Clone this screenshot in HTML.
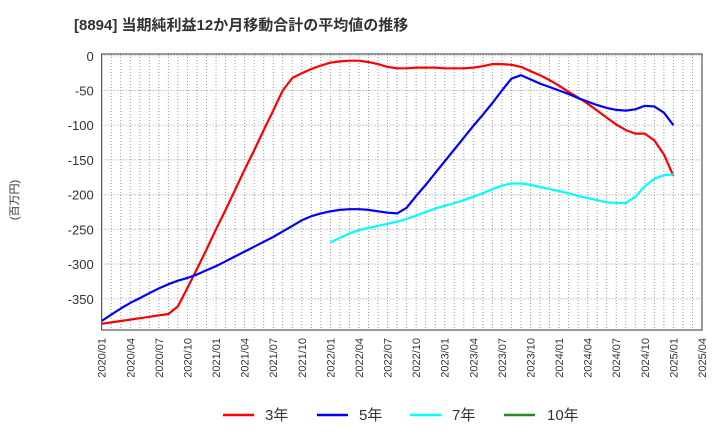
<!DOCTYPE html>
<html><head><meta charset="utf-8"><style>
body{margin:0;background:#fff;}
svg{display:block;font-family:"Liberation Sans","Noto Sans CJK JP",sans-serif;}
</style></head><body>
<svg id="c" width="720" height="440" viewBox="0 0 720 440">
<text x="74" y="30" font-size="15" font-weight="bold" fill="#333">[8894]  当期純利益12か月移動合計の平均値の推移</text>
<text transform="translate(18,200) rotate(-90)" font-size="11" fill="#333" text-anchor="middle">(百万円)</text>
<g id="grid"></g><g id="axes"></g><g id="series"></g>
<g>
<g><line x1="223" y1="415" x2="254" y2="415" stroke="#f00" stroke-width="2.5"/><text x="265" y="420" font-size="15" fill="#333">3年</text></g>
<g><line x1="317" y1="415" x2="348" y2="415" stroke="#00f" stroke-width="2.5"/><text x="359" y="420" font-size="15" fill="#333">5年</text></g>
<g><line x1="410" y1="415" x2="441" y2="415" stroke="#0ff" stroke-width="2.5"/><text x="452" y="420" font-size="15" fill="#333">7年</text></g>
<g><line x1="504" y1="415" x2="535" y2="415" stroke="#228b22" stroke-width="2.5"/><text x="547" y="420" font-size="15" fill="#333">10年</text></g>
</g>
</svg>
<script>
const yTicks=[0,-50,-100,-150,-200,-250,-300,-350];
const xTickLabels=["2020/01","2020/04","2020/07","2020/10","2021/01","2021/04","2021/07","2021/10","2022/01","2022/04","2022/07","2022/10","2023/01","2023/04","2023/07","2023/10","2024/01","2024/04","2024/07","2024/10","2025/01","2025/04"];
const s3=[-386,-384,-382,-380,-378,-376,-374,-372,-361,-334,-307,-279,-250,-222,-193,-164,-136,-107,-79,-50,-32,-25,-19,-14,-10,-8,-7,-7,-9,-12,-16,-18,-18,-17,-17,-17,-18,-18,-18,-17,-15,-12,-12,-13,-16,-22,-28,-35,-43,-52,-60,-69,-79,-89,-99,-107,-112,-112,-122,-142,-173];
const s5=[-382,-373,-364,-356,-349,-342,-335,-329,-324,-320,-315,-309,-303,-296,-289,-282,-275,-268,-261,-253,-245,-237,-231,-227,-224,-222,-221,-221,-222,-224,-226,-227,-219,-202,-186,-169,-152,-135,-118,-101,-85,-68,-50,-33,-28,-34,-40,-45,-50,-55,-61,-66,-71,-75,-78,-79,-77,-72,-73,-82,-100];
const s7Start=24;
const s7=[-269,-262,-256,-251,-248,-245,-242,-239,-235,-230,-225,-220,-216,-212,-208,-203,-198,-192,-187,-184,-184,-186,-189,-192,-195,-198,-202,-205,-208,-211,-212,-212,-203,-188,-177,-172,-171];
const s10=[];
const L=101.7,R=702,T=54,B=330,NM=63,YMAX=2.6,YMIN=-395;
const xs=i=>L+(R-L)*i/NM;
const ys=v=>T+(B-T)*(YMAX-v)/(YMAX-YMIN);
const NS="http://www.w3.org/2000/svg";
function mk(p,t,a){const e=document.createElementNS(NS,t);for(const k in a)e.setAttribute(k,a[k]);p.appendChild(e);return e;}
const grid=document.getElementById('grid'),axes=document.getElementById('axes'),ser=document.getElementById('series');
for(let i=1;i<NM;i++){const l=mk(grid,'line',{x1:xs(i),x2:xs(i),y1:T,y2:B,stroke:'#999','stroke-width':1,'stroke-dasharray':'1,2'});

}
yTicks.forEach(v=>{const y=ys(v);const l=mk(grid,'line',{x1:L,x2:R,y1:y,y2:y,stroke:'#999','stroke-width':1,'stroke-dasharray':'1,2'});


const t=mk(axes,'text',{x:L-8,y:y+5,'font-size':13,fill:'#333','text-anchor':'end'});t.textContent=v;

});
xTickLabels.forEach((s,k)=>{const x=xs(k*3);const t=mk(axes,'text',{transform:`translate(${x+4},${B+8}) rotate(-90)`,'font-size':11,fill:'#333','text-anchor':'end'});t.textContent=s;

});
const fr=mk(axes,'rect',{x:L,y:T,width:R-L,height:B-T,fill:'none',stroke:'#333','stroke-width':1});


function line(arr,start,col,name){if(!arr.length)return;const p=arr.map((v,i)=>xs(start+i).toFixed(1)+','+ys(v).toFixed(1)).join(' ');
const e=mk(ser,'polyline',{points:p,fill:'none',stroke:col,'stroke-width':2.2,'stroke-linejoin':'round'});

}
line(s3,0,'#f00','series-3y');line(s5,0,'#00f','series-5y');line(s7,s7Start,'#0ff','series-7y');line(s10,0,'#228b22','series-10y');
</script>
</body></html>
